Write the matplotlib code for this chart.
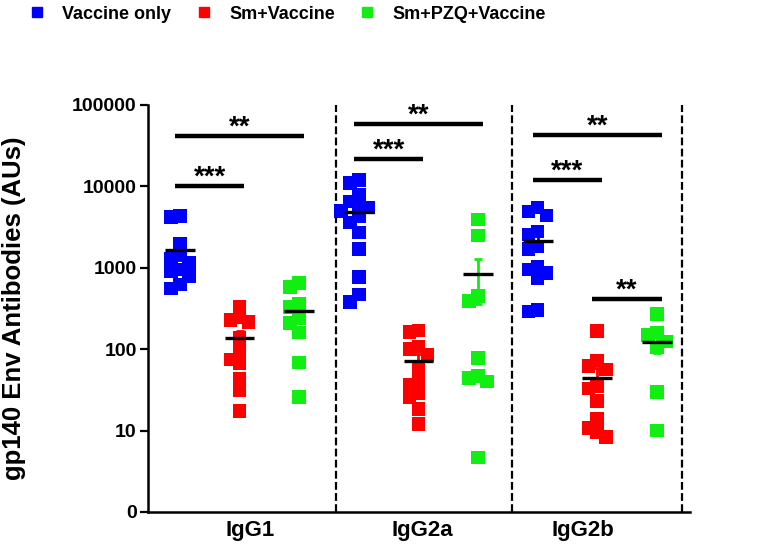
import numpy as np
import matplotlib.pyplot as plt
from matplotlib.lines import Line2D

plt.rcParams['font.family'] = ['Liberation Sans', 'DejaVu Sans']
plt.rcParams['font.weight'] = 'bold'

groups = ['IgG1', 'IgG2a', 'IgG2b']
series_names = ['Vaccine only', 'Sm+Vaccine', 'Sm+PZQ+Vaccine']
colors = ['#0000FF', '#FF0000', '#11EE11']

# values (AUs)
igg1_vaccine = [4300, 4200, 2000, 1500, 1300, 1150, 950, 900, 780, 620, 560]
igg1_sm = [330, 250, 230, 215, 140, 95, 75, 68, 43, 31, 17.5]
igg1_pzq = [650, 580, 360, 330, 240, 210, 160, 69, 26]

igg2a_vaccine = [12000, 11000, 8000, 6500, 6000, 5500, 5000, 4300, 3600, 2700, 1700, 770, 470, 380]
igg2a_sm = [170, 163, 108, 100, 85, 59, 43, 37, 29, 26, 18.4, 12]
igg2a_pzq = [3900, 2500, 450, 390, 78, 47, 44, 40, 4.7]

igg2b_vaccine = [5500, 4900, 4400, 2800, 2550, 1830, 1700, 1040, 950, 860, 750, 305, 290]
igg2b_sm = [166, 73, 62, 56, 35, 33, 23, 14, 10.8, 9.6, 8.3]
igg2b_pzq = [270, 160, 150, 125, 105, 30, 10]

columns = [igg1_vaccine, igg1_sm, igg1_pzq,
           igg2a_vaccine, igg2a_sm, igg2a_pzq,
           igg2b_vaccine, igg2b_sm, igg2b_pzq]

# significance bars: (left column, right column, height, label)
sig_left = [0, 0, 3, 3, 6, 6, 7]
sig_right = [2, 1, 5, 4, 8, 7, 8]
sig_height = [41100, 10100, 58500, 21900, 42800, 12100, 417]
sig_label = ['**', '***', '**', '***', '**', '***', '**']


def swarm(vals, step=0.15, dx=0.15, dy=0.12):
    # simple Prism-like scatter: push overlapping points sideways
    vals = np.asarray(vals, dtype=float)
    order = np.argsort(vals)[::-1]
    placed = []
    offs = np.zeros(len(vals))
    for i in order:
        ly = np.log10(vals[i])
        for c in [0, -step, step, -2 * step, 2 * step]:
            if all(abs(ly - py) >= dy or abs(c - px) >= dx for px, py in placed):
                break
        offs[i] = c
        placed.append((c, ly))
    return offs


fig = plt.figure(figsize=(7.8, 5.52), dpi=100)
ax = fig.add_axes([0.1897, 0.0725, 0.695, 0.7373])

for k, vals in enumerate(columns):
    col = colors[k % 3]
    vals = np.asarray(vals, dtype=float)
    xs = k + swarm(vals)
    m = vals.mean()
    sem = vals.std(ddof=1) / np.sqrt(len(vals))
    ax.errorbar(k, m, yerr=sem, color=col, lw=2, capsize=3, capthick=2, zorder=2)
    ax.scatter(xs, vals, marker='s', s=95, color=col, edgecolors='none', zorder=3)
    ax.hlines(m, k - 0.25, k + 0.25, color='black', lw=2.4, zorder=4)

for l, r, h, lab in zip(sig_left, sig_right, sig_height, sig_label):
    ax.hlines(h, l - 0.08, r + 0.08, color='black', lw=3.2, zorder=5)
    ax.annotate(lab, ((l + r) / 2, h), xytext=(0, 6), textcoords='offset points',
                ha='center', va='center', fontsize=20, fontweight='bold')

for xd in [2.62, 5.57, 8.42]:
    ax.axvline(xd, color='black', lw=1.6, linestyle=(0, (3.5, 1.5)), zorder=1)

ax.set_yscale('log')
ax.set_ylim(1, 100000)
ax.set_xlim(-0.537, 8.557)
ax.set_yticks([1, 10, 100, 1000, 10000, 100000])
ax.set_yticklabels(['0', '10', '100', '1000', '10000', '100000'])
ax.yaxis.set_minor_locator(plt.NullLocator())
ax.set_xticks([1.17, 4.06, 6.76])
ax.set_xticklabels(groups)
ax.tick_params(axis='x', length=0, pad=6, labelsize=16)
ax.tick_params(axis='y', length=6, width=1.6, labelsize=14, pad=2)
for lab in ax.get_xticklabels() + ax.get_yticklabels():
    lab.set_fontweight('bold')

ax.spines['top'].set_visible(False)
ax.spines['right'].set_visible(False)
ax.spines['left'].set_linewidth(1.8)
ax.spines['bottom'].set_linewidth(1.8)

ax.set_ylabel('gp140 Env Antibodies (AUs)', fontsize=18.5, fontweight='bold')
ax.yaxis.set_label_coords(-0.225, 0.5)

handles = [Line2D([], [], marker='s', linestyle='none', color=c, markersize=7.5)
           for c in colors]
fig.legend(handles, series_names, loc='upper left', bbox_to_anchor=(0.036, 0.99),
           ncol=3, frameon=False, handlelength=1.0, handletextpad=0.9,
           columnspacing=1.3, borderpad=0, borderaxespad=0,
           prop={'weight': 'bold', 'size': 13})

fig.savefig('out.png', dpi=100)
